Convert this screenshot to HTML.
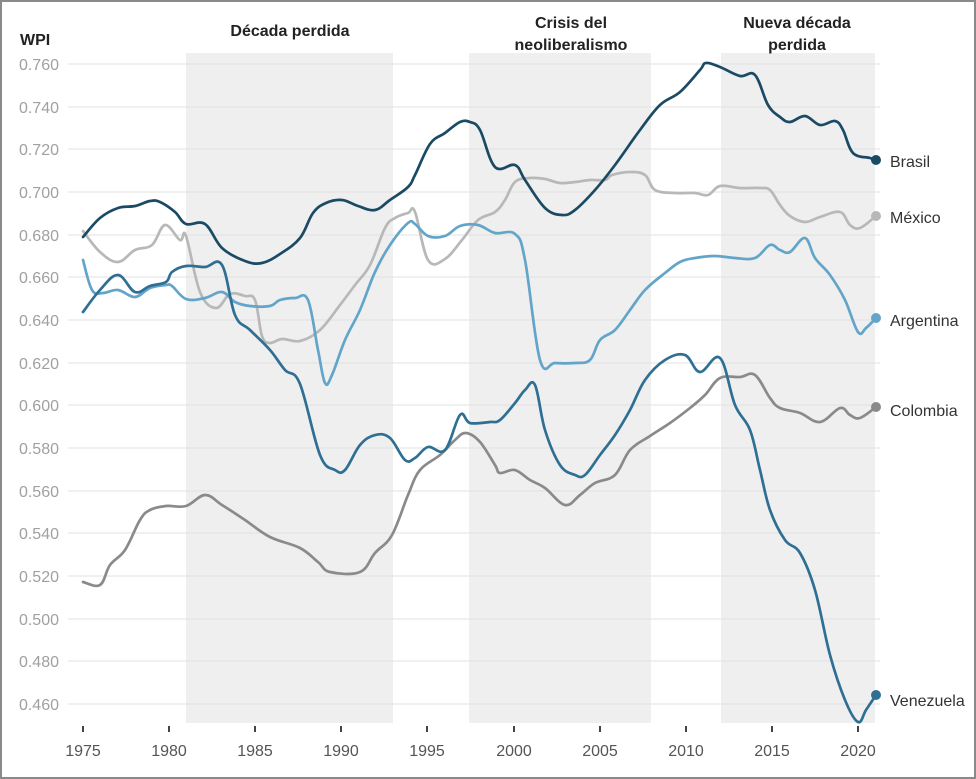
<!DOCTYPE html>
<html><head><meta charset="utf-8"><style>
html,body{margin:0;padding:0;background:#fff;}
svg{display:block;font-family:"Liberation Sans",Arial,sans-serif;}
</style></head><body>
<svg id="c" width="976" height="779" viewBox="0 0 976 779" xmlns="http://www.w3.org/2000/svg">
<rect x="1" y="1" width="974" height="777" fill="#fff" stroke="#8a8a8a" stroke-width="2"/>
<g fill="#efefef">
<rect x="186" y="53" width="207" height="670"/>
<rect x="469" y="53" width="182" height="670"/>
<rect x="721" y="53" width="154" height="670"/>
</g>
<g stroke="#e2e2e2" stroke-width="1">
<line x1="68" x2="880" y1="64" y2="64"/><line x1="68" x2="880" y1="107" y2="107"/>
<line x1="68" x2="880" y1="149" y2="149"/><line x1="68" x2="880" y1="192" y2="192"/>
<line x1="68" x2="880" y1="235" y2="235"/><line x1="68" x2="880" y1="277" y2="277"/>
<line x1="68" x2="880" y1="320" y2="320"/><line x1="68" x2="880" y1="363" y2="363"/>
<line x1="68" x2="880" y1="405" y2="405"/><line x1="68" x2="880" y1="448" y2="448"/>
<line x1="68" x2="880" y1="491" y2="491"/><line x1="68" x2="880" y1="533" y2="533"/>
<line x1="68" x2="880" y1="576" y2="576"/><line x1="68" x2="880" y1="619" y2="619"/>
<line x1="68" x2="880" y1="661" y2="661"/><line x1="68" x2="880" y1="704" y2="704"/>
</g>
<g fill="#a0a0a0" font-size="16" text-anchor="end">
<text x="59" y="70">0.760</text><text x="59" y="113">0.740</text><text x="59" y="155">0.720</text>
<text x="59" y="198">0.700</text><text x="59" y="241">0.680</text><text x="59" y="283">0.660</text>
<text x="59" y="326">0.640</text><text x="59" y="369">0.620</text><text x="59" y="411">0.600</text>
<text x="59" y="454">0.580</text><text x="59" y="497">0.560</text><text x="59" y="539">0.540</text>
<text x="59" y="582">0.520</text><text x="59" y="625">0.500</text><text x="59" y="667">0.480</text>
<text x="59" y="710">0.460</text>
</g>
<text x="20" y="45" font-size="16" font-weight="bold" fill="#222">WPI</text>
<g font-size="16" font-weight="bold" fill="#222" text-anchor="middle">
<text x="290" y="36">Década perdida</text>
<text x="571" y="28">Crisis del</text><text x="571" y="50">neoliberalismo</text>
<text x="797" y="28">Nueva década</text><text x="797" y="50">perdida</text>
</g>
<g stroke="#444" stroke-width="2">
<line x1="83" x2="83" y1="726" y2="732"/><line x1="169" x2="169" y1="726" y2="732"/>
<line x1="255" x2="255" y1="726" y2="732"/><line x1="341" x2="341" y1="726" y2="732"/>
<line x1="427" x2="427" y1="726" y2="732"/><line x1="514" x2="514" y1="726" y2="732"/>
<line x1="600" x2="600" y1="726" y2="732"/><line x1="686" x2="686" y1="726" y2="732"/>
<line x1="772" x2="772" y1="726" y2="732"/><line x1="858" x2="858" y1="726" y2="732"/>
</g>
<g font-size="16" fill="#555" text-anchor="middle">
<text x="83" y="756">1975</text><text x="169" y="756">1980</text><text x="255" y="756">1985</text>
<text x="341" y="756">1990</text><text x="427" y="756">1995</text><text x="514" y="756">2000</text>
<text x="600" y="756">2005</text><text x="686" y="756">2010</text><text x="772" y="756">2015</text>
<text x="858" y="756">2020</text>
</g>
<g id="lines" fill="none" stroke-width="2.7" stroke-linejoin="round" stroke-linecap="round">
<polyline stroke="#8a8a8a" points="83,582 100,585 110,565 125,550 140,520 150,510 166,506 186,506 205,495 222,505 245,520 270,537 300,548 318,562 330,572 360,572 375,553 392,535 408,495 420,470 440,455 455,440 466,433 480,442 495,465 500,473 515,470 530,480 545,488 565,505 580,495 595,483 615,475 630,450 650,436 670,423 690,408 705,395 720,378 740,377 755,375 770,398 780,408 800,413 820,422 840,408 850,415 860,418 876,407"/>
<polyline stroke="#b8b8b8" points="83,231 100,252 118,262 135,250 152,245 165,225 180,240 186,236 200,292 216,308 230,294 245,296 255,300 262,336 270,343 282,339 300,341 320,330 340,305 355,285 370,265 385,228 395,218 408,213 415,212 428,260 445,259 462,240 478,220 495,212 505,200 515,182 530,178 545,179 560,183 575,182 590,180 605,180 612,175 630,172 645,175 655,190 675,193 695,193 708,195 720,186 740,188 760,188 770,190 780,205 790,216 805,222 820,217 840,212 850,225 860,228 876,216"/>
<polyline stroke="#62a5c9" points="83,260 92,290 103,293 118,290 135,297 150,288 166,285 172,286 186,299 205,298 222,292 235,302 250,306 270,306 280,300 295,298 308,300 318,350 325,383 332,375 345,340 360,310 375,272 390,245 408,223 415,224 428,236 445,236 460,226 478,225 495,233 515,234 525,260 540,360 555,363 575,363 590,360 600,340 615,330 630,310 645,290 665,273 680,262 695,258 715,256 735,258 755,258 770,245 780,250 790,252 805,238 815,258 830,275 845,300 858,332 866,328 876,318"/>
<polyline stroke="#2e6f93" points="83,312 100,290 118,275 135,292 150,286 166,282 172,272 186,266 205,267 222,265 235,315 250,330 270,350 285,370 300,384 320,455 335,470 345,470 360,445 375,435 390,438 405,460 415,458 428,447 445,450 460,415 470,423 490,422 500,420 515,403 525,390 535,385 545,430 560,465 575,475 585,475 600,455 615,435 630,410 645,380 665,360 685,355 700,372 720,358 735,405 750,430 760,470 770,510 785,540 800,553 815,590 830,655 845,700 858,722 866,710 876,695"/>
<polyline stroke="#1a4a64" points="83,237 100,218 118,208 135,206 150,201 160,202 175,212 186,224 205,224 222,248 245,261 262,263 280,254 300,238 313,213 326,203 342,200 358,206 375,210 390,200 408,187 415,175 430,144 445,133 460,122 470,122 480,130 495,167 515,165 525,180 545,208 562,215 575,210 595,190 615,165 640,130 660,105 680,92 700,70 706,63 720,67 740,76 755,75 768,105 780,117 790,122 805,116 820,125 835,121 843,130 853,153 870,158 876,160"/>
</g>
<circle cx="876" cy="160" r="5" fill="#1a4a64"/>
<circle cx="876" cy="216" r="5" fill="#b8b8b8"/>
<circle cx="876" cy="318" r="5" fill="#62a5c9"/>
<circle cx="876" cy="407" r="5" fill="#8a8a8a"/>
<circle cx="876" cy="695" r="5" fill="#2e6f93"/>
<g font-size="16" fill="#333">
<text x="890" y="167">Brasil</text>
<text x="890" y="223">México</text>
<text x="890" y="326">Argentina</text>
<text x="890" y="416">Colombia</text>
<text x="890" y="706">Venezuela</text>
</g>
</svg>
<script>
(function(){
var NS="http://www.w3.org/2000/svg";
var pls=document.querySelectorAll("#lines polyline");
for(var k=0;k<pls.length;k++){
 var pl=pls[k];
 var pts=pl.getAttribute("points").trim().split(/\s+/).map(function(s){var a=s.split(",");return [+a[0],+a[1]];});
 var d="M"+pts[0][0]+","+pts[0][1];
 for(var i=0;i<pts.length-1;i++){
  var p0=pts[i-1]||pts[i],p1=pts[i],p2=pts[i+1],p3=pts[i+2]||p2;
  var t=0.18;
  var c1x=p1[0]+(p2[0]-p0[0])*t,c1y=p1[1]+(p2[1]-p0[1])*t;
  var c2x=p2[0]-(p3[0]-p1[0])*t,c2y=p2[1]-(p3[1]-p1[1])*t;
  d+=" C"+c1x.toFixed(1)+","+c1y.toFixed(1)+" "+c2x.toFixed(1)+","+c2y.toFixed(1)+" "+p2[0]+","+p2[1];
 }
 var p=document.createElementNS(NS,"path");
 p.setAttribute("d",d);p.setAttribute("stroke",pl.getAttribute("stroke"));
 pl.parentNode.replaceChild(p,pl);
}
})();
</script>
</body></html>
